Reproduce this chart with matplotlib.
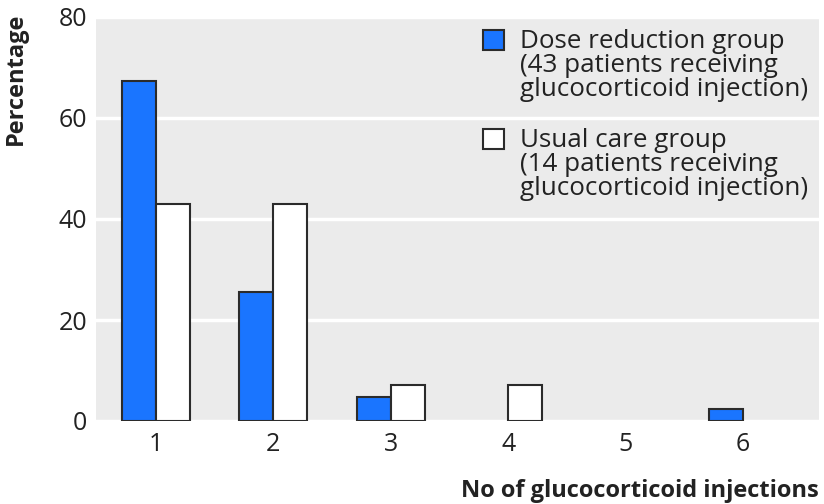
import matplotlib.pyplot as plt
import numpy as np
from matplotlib.patches import Rectangle

# datos
inyecciones = [1, 2, 3, 4, 5, 6]
reduccion_dosis = [67.4, 25.6, 4.7, 0, 0, 2.3]
cuidado_usual = [42.9, 42.9, 7.1, 7.1, 0, 0]

etiqueta_reduccion = "Dose reduction group\n(43 patients receiving\nglucocorticoid injection)"
etiqueta_usual = "Usual care group\n(14 patients receiving\nglucocorticoid injection)"

AZUL = "#1a75ff"
BORDE = "#2b2b2b"
ANCHO = 0.29
W, H = 824, 504

plt.rcParams["font.family"] = ["Open Sans", "DejaVu Sans"]

fig = plt.figure(figsize=(W / 100, H / 100), dpi=100)
ax = fig.add_axes([96 / W, 83 / H, 723 / W, 404 / H])
ax.set_facecolor("#ebebeb")


def grosor(valores):
    # sin borde para barras de altura cero
    return [1.5 if v > 0 else 0 for v in valores]


x = np.array(inyecciones)
ax.bar(x - ANCHO / 2, reduccion_dosis, ANCHO, color=AZUL, edgecolor=BORDE,
       linewidth=grosor(reduccion_dosis), zorder=3)
ax.bar(x + ANCHO / 2, cuidado_usual, ANCHO, color="white", edgecolor=BORDE,
       linewidth=grosor(cuidado_usual), zorder=3)

ax.set_xlim(0.489, 6.647)
ax.set_ylim(0, 80)
ax.set_yticks([0, 20, 40, 60, 80])
ax.set_xticks(inyecciones)
ax.grid(axis="y", color="white", linewidth=2.5, zorder=1)
ax.set_axisbelow(True)
for lado in ax.spines.values():
    lado.set_visible(False)
ax.tick_params(length=0, labelsize=18, colors="#222222", pad=8)
ax.tick_params(axis="y", pad=6.5)

fig.text(4 / W, 1 - 13 / H, "Percentage", rotation=90, ha="left", va="top",
         fontsize=17, fontweight="bold", color="#222222")
fig.text(819 / W, 1 - 497 / H, "No of glucocorticoid injections", ha="right",
         va="baseline", fontsize=17, fontweight="bold", color="#222222")

# leyenda dibujada a mano: cuadro alineado con la primera línea
def pix(px, py):
    return px / W, 1 - py / H


for etiqueta, color, y_top in [(etiqueta_reduccion, AZUL, 30), (etiqueta_usual, "white", 129)]:
    fig.patches.append(Rectangle(pix(483, y_top + 20), 21 / W, 20 / H, transform=fig.transFigure,
                                 facecolor=color, edgecolor=BORDE, linewidth=1.5))
    fig.text(*pix(520, y_top - 1), etiqueta, ha="left", va="top", fontsize=18.7,
             linespacing=0.96, color="#222222")

fig.savefig("out.png", dpi=100)
